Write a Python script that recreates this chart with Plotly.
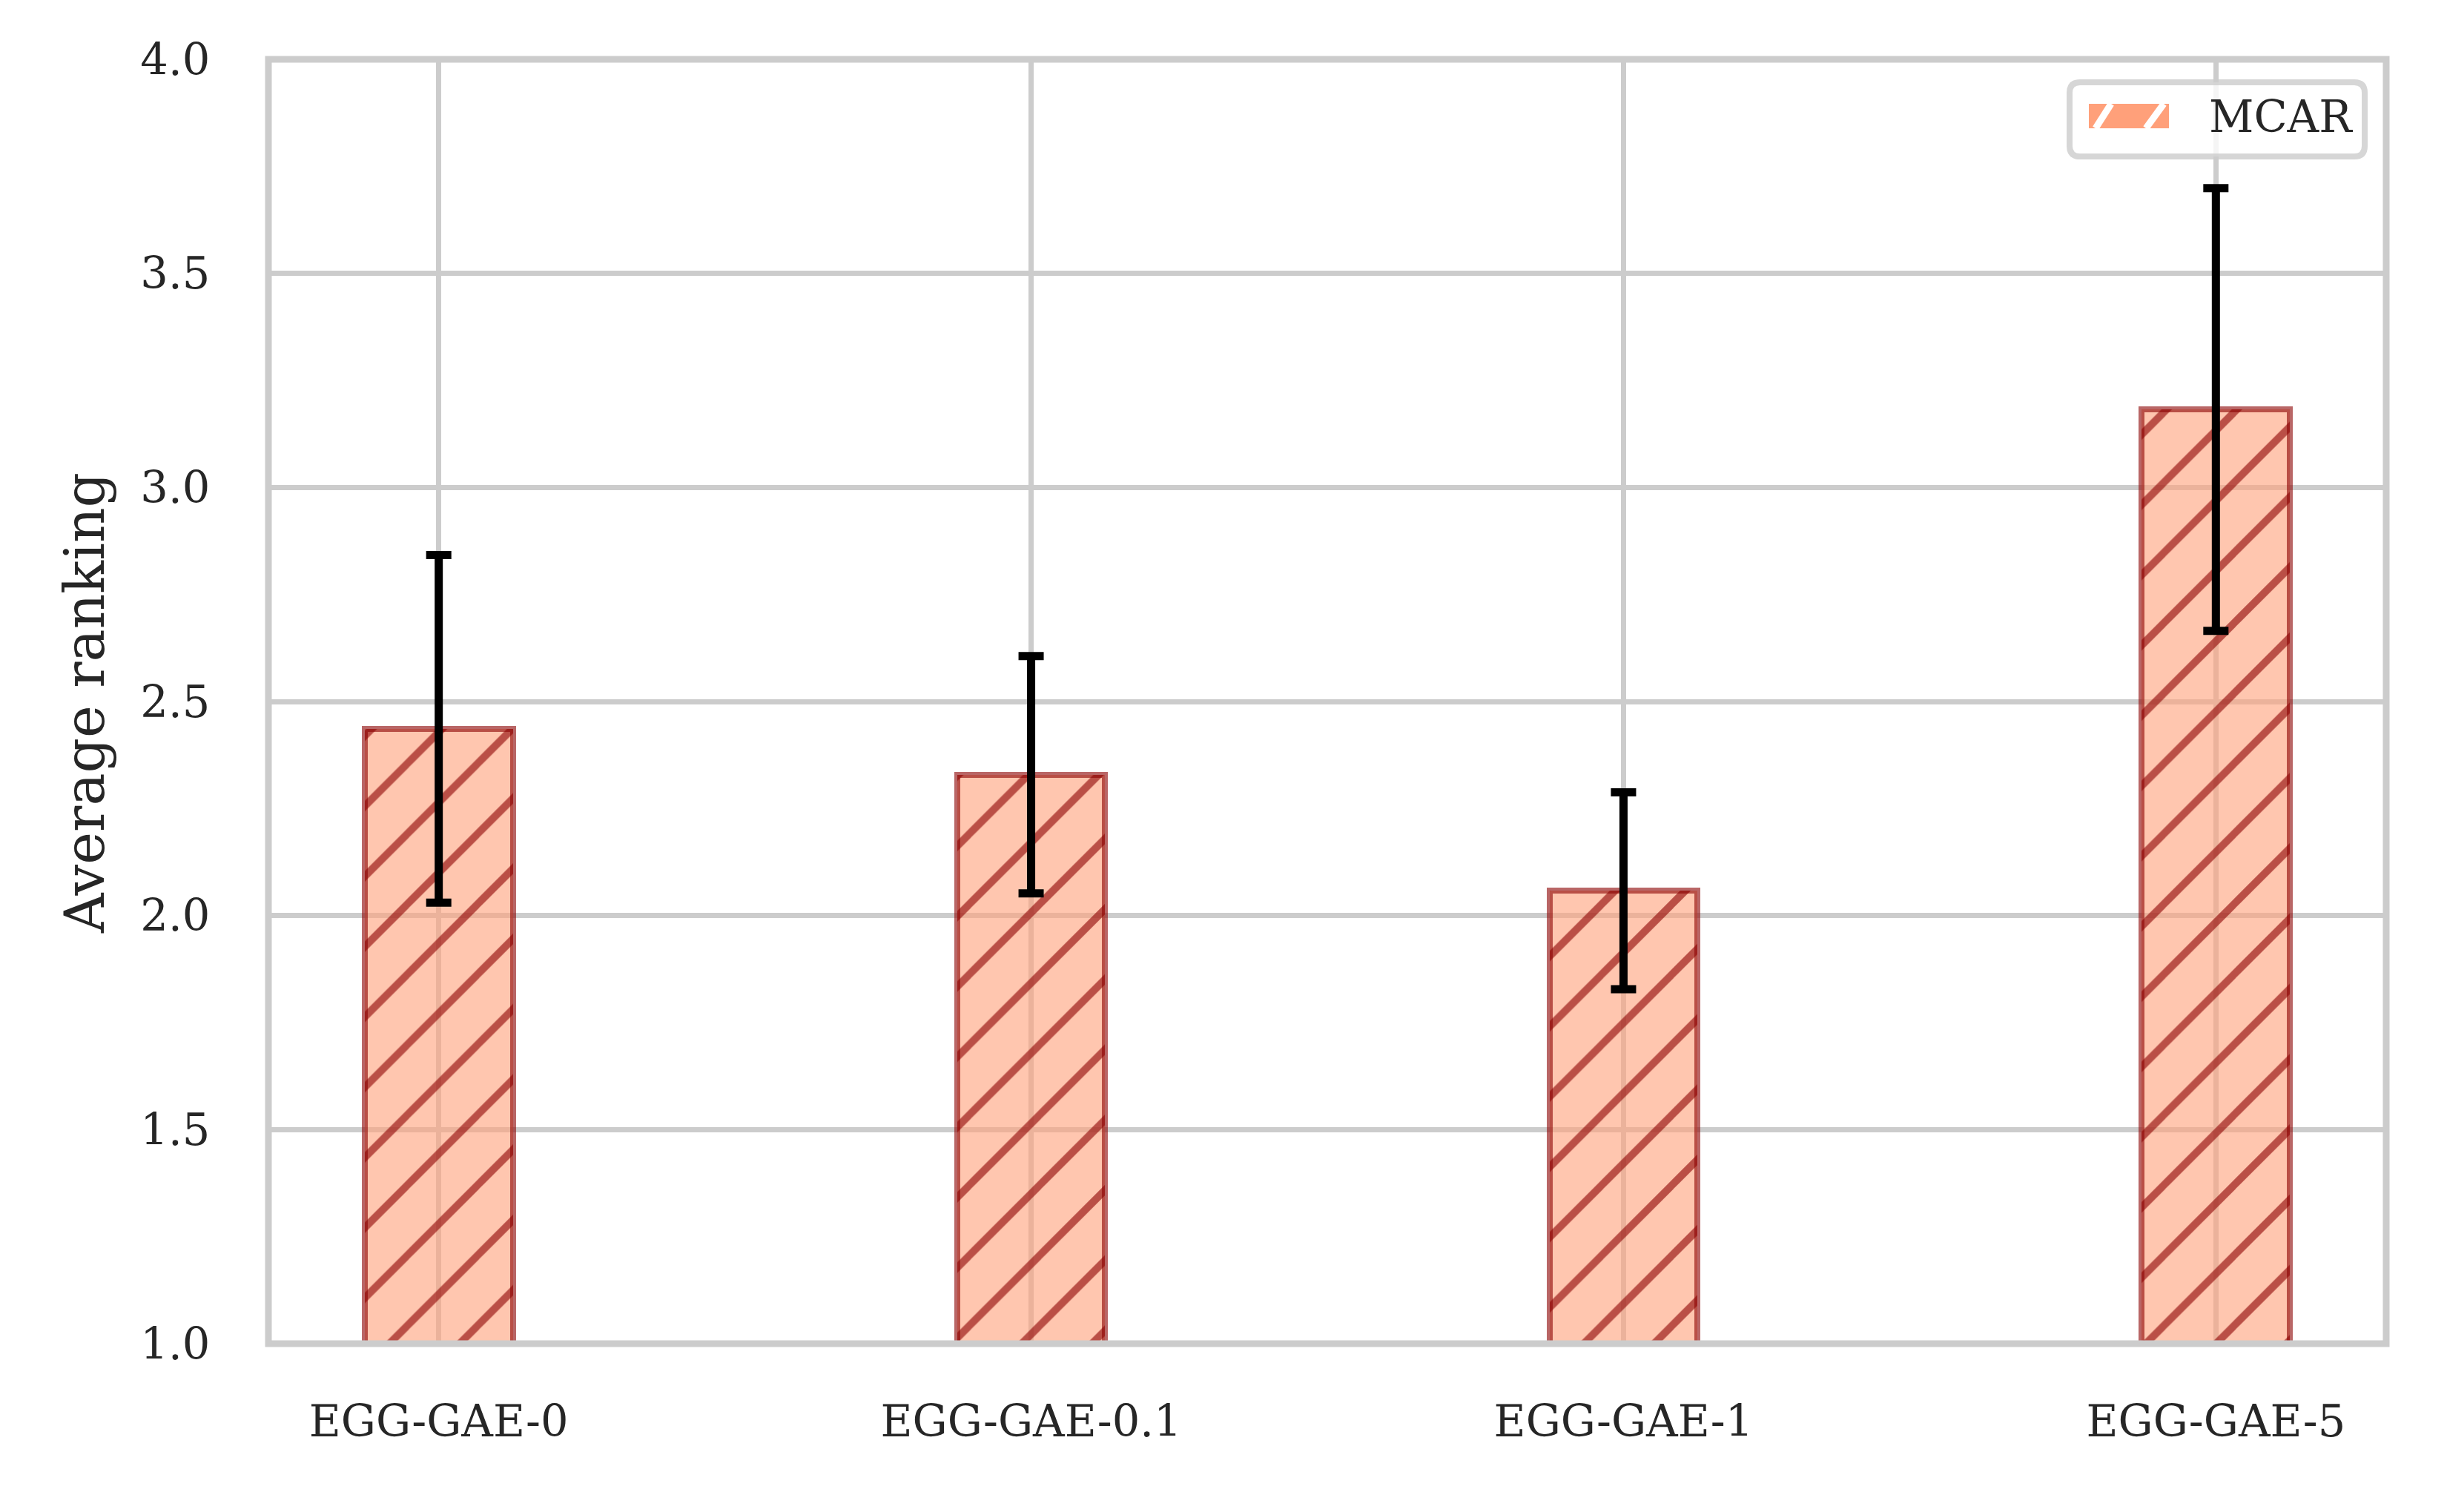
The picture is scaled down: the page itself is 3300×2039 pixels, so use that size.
import plotly.graph_objects as go

# ---------------- data ----------------
categories = ["EGG-GAE-0", "EGG-GAE-0.1", "EGG-GAE-1", "EGG-GAE-5"]
mean_rank = [2.436, 2.329, 2.058, 3.182]
err_rank = [0.406, 0.277, 0.230, 0.517]
series_name = "MCAR"
y_title = "Average ranking"
y_ticks = [1.0, 1.5, 2.0, 2.5, 3.0, 3.5, 4.0]

# ---------------- layout geometry (page pixels) ----------------
PAGE_W, PAGE_H = 3300, 2039
OFF = 8                      # default body margin of the html page
L, R, T, B = 362, 3218, 80, 1812  # plot-area edges on the page

FONT = "DejaVu Serif"
TXT = "#262626"
GRID = "#CCCCCC"


def X(p):
    return (p - L) / (R - L)


def Y(p):
    return (B - p) / (B - T)


fig = go.Figure()
fig.add_trace(go.Bar(
    x=categories,
    y=mean_rank,
    width=0.25,
    name=series_name,
    showlegend=False,
    marker=dict(
        color="rgba(255,160,122,0.6)",
        line=dict(color="rgba(139,0,0,0.6)", width=8),
        pattern=dict(shape="/", fgcolor="#8B0000", fgopacity=0.6,
                     size=67, solidity=0.15),
    ),
    error_y=dict(type="data", array=err_rank, visible=True, color="black",
                 thickness=11, width=17),
))


def rounded_rect(x0, y0, x1, y1, r):
    return (f"M {X(x0 + r)},{Y(y0)} L {X(x1 - r)},{Y(y0)} "
            f"Q {X(x1)},{Y(y0)} {X(x1)},{Y(y0 + r)} L {X(x1)},{Y(y1 - r)} "
            f"Q {X(x1)},{Y(y1)} {X(x1 - r)},{Y(y1)} L {X(x0 + r)},{Y(y1)} "
            f"Q {X(x0)},{Y(y1)} {X(x0)},{Y(y1 - r)} L {X(x0)},{Y(y0 + r)} "
            f"Q {X(x0)},{Y(y0)} {X(x0 + r)},{Y(y0)} Z")

shapes = [
    # axes frame (spines centred on the plot-area edges)
    dict(type="rect", xref="paper", yref="paper", x0=0, x1=1, y0=0, y1=1,
         line=dict(color=GRID, width=9), fillcolor="rgba(0,0,0,0)", layer="above"),
    # legend box
    dict(type="path", xref="paper", yref="paper",
         path=rounded_rect(2791, 111, 3189, 211, 14),
         fillcolor="rgba(255,255,255,0.8)",
         line=dict(color="rgba(204,204,204,0.8)", width=8), layer="above"),
    # legend swatch
    dict(type="rect", xref="paper", yref="paper",
         x0=X(2817), x1=X(2925), y0=Y(173), y1=Y(140),
         fillcolor="#FFA07A", line=dict(width=0), layer="above"),
]
for xb, xt in [(2826, 2847), (2894, 2918)]:
    shapes.append(dict(type="line", xref="paper", yref="paper",
                       x0=X(xb), y0=Y(173), x1=X(xt), y1=Y(140),
                       line=dict(color="white", width=9), layer="above"))

fig.update_layout(
    width=PAGE_W - OFF, height=PAGE_H - OFF,
    margin=dict(l=L - OFF, r=PAGE_W - R, t=T - OFF, b=PAGE_H - B, pad=0),
    paper_bgcolor="white", plot_bgcolor="white",
    font=dict(family=FONT, color=TXT, size=59),
    showlegend=False,
    bargap=0,
    shapes=shapes,
    annotations=[
        dict(text=series_name, xref="paper", yref="paper",
             x=X(2977), y=Y(158), xanchor="left", yanchor="middle",
             showarrow=False, font=dict(family=FONT, size=59, color=TXT)),
        dict(text=y_title, xref="paper", yref="paper",
             x=X(114), y=Y(948), xanchor="center", yanchor="middle",
             textangle=-90, showarrow=False,
             font=dict(family=FONT, size=74, color=TXT)),
    ],
    xaxis=dict(
        range=[-0.2875, 3.2875],
        showgrid=True, gridcolor=GRID, gridwidth=7,
        showline=True, linecolor="rgba(0,0,0,0)", linewidth=9, mirror=True,
        ticks="", ticklabelstandoff=45,
        tickfont=dict(family=FONT, size=59, color=TXT),
        zeroline=False,
    ),
    yaxis=dict(
        range=[1.0, 4.0],
        tickvals=y_ticks, tickformat=".1f",
        showgrid=True, gridcolor=GRID, gridwidth=7,
        showline=True, linecolor="rgba(0,0,0,0)", linewidth=9, mirror=True,
        ticks="", ticklabelstandoff=58,
        tickfont=dict(family=FONT, size=59, color=TXT),
        zeroline=False,
    ),
)

fig.write_html("out.html")
